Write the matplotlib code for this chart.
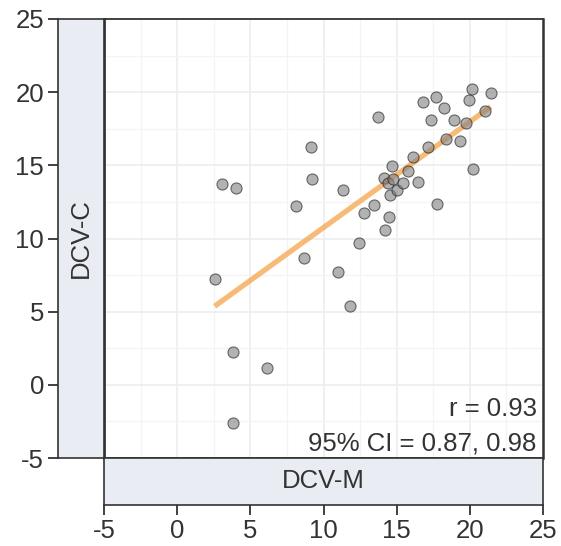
import numpy as np
import matplotlib
matplotlib.use("Agg")
import matplotlib.pyplot as plt

plt.rcParams['font.family'] = ['Liberation Sans', 'DejaVu Sans']

# DCV measurements: method M (x) against method C (y)
dcv_m = [2.56, 3.06, 4.04, 3.84, 3.84, 6.12, 8.15, 8.65, 9.13, 9.20,
         11.00, 11.34, 11.81, 12.45, 12.75, 13.43, 13.73, 14.20, 14.50, 14.14,
         14.43, 14.55, 14.66, 14.78, 15.00, 15.46, 15.75, 16.48, 16.15, 17.17,
         17.75, 16.83, 17.69, 17.33, 18.26, 18.35, 18.92, 19.31, 19.74, 19.92,
         20.13, 20.24, 21.04, 21.43]
dcv_c = [7.20, 13.75, 13.48, 2.23, -2.59, 1.13, 12.25, 8.65, 16.28, 14.05,
         7.70, 13.34, 5.41, 9.68, 11.75, 12.28, 18.30, 10.60, 11.49, 14.16,
         13.78, 12.98, 14.96, 14.05, 13.32, 13.78, 14.60, 13.89, 15.60, 16.22,
         12.34, 19.31, 19.70, 18.08, 18.92, 16.80, 18.12, 16.65, 17.90, 19.45,
         20.24, 14.77, 18.74, 19.97]
tick_values = [-5, 0, 5, 10, 15, 20, 25]
r_label = "r = 0.93"
ci_label = "95% CI = 0.87, 0.98"
x_strip = "DCV-M"
y_strip = "DCV-C"

W, H = 561, 546
fig = plt.figure(figsize=(W / 100, H / 100), dpi=100)


def rect(x0, y0, x1, y1):
    return [x0 / W, 1 - y1 / H, (x1 - x0) / W, (y1 - y0) / H]


TXT = '#333333'
EDGE = '#333333'
STRIP = '#E9ECF2'
FS = 18.5

ax = fig.add_axes(rect(104, 19, 543, 458))
axl = fig.add_axes(rect(58, 19, 104, 458))
axb = fig.add_axes(rect(104, 458, 543, 505))

lims = (-5, 25)

# main panel
ax.set_xlim(lims)
ax.set_ylim(lims)
ax.set_xticks(tick_values)
ax.set_yticks(tick_values)
ax.set_xticks(np.arange(-2.5, 25, 5), minor=True)
ax.set_yticks(np.arange(-2.5, 25, 5), minor=True)
ax.tick_params(which='both', length=0, labelbottom=False, labelleft=False)
ax.grid(which='major', color='#EBEDF0', lw=1.2)
ax.grid(which='minor', color='#F3F4F6', lw=0.9)
ax.set_axisbelow(True)
for s in ax.spines.values():
    s.set_color(EDGE)
    s.set_linewidth(1.3)
ax.spines['left'].set_linewidth(2.0)
ax.spines['right'].set_linewidth(1.8)

x = np.array(dcv_m)
y = np.array(dcv_c)
slope, intercept = np.polyfit(x, y, 1)
xs = np.array([x.min(), x.max()])
ax.plot(xs, intercept + slope * xs, color='#F5A54A', alpha=0.75, lw=3.8,
        solid_capstyle='butt', zorder=2)
ax.scatter(x, y, s=64, facecolor='#7f7f7f', edgecolor='#1a1a1a',
           linewidths=0.8, alpha=0.6, zorder=3)

ax.text(0.986, 0.0957, r_label, transform=ax.transAxes, ha='right',
        va='baseline', fontsize=FS, color=TXT)
ax.text(0.986, 0.0182, ci_label, transform=ax.transAxes, ha='right',
        va='baseline', fontsize=FS, color=TXT)

# left strip with y axis
axl.set_facecolor(STRIP)
axl.set_ylim(lims)
axl.set_xticks([])
axl.set_yticks(tick_values)
axl.set_yticklabels([str(v) for v in tick_values])
axl.tick_params(axis='y', length=7, width=1.3, color=EDGE, labelcolor=TXT,
                labelsize=FS, pad=3)
for s in axl.spines.values():
    s.set_color(EDGE)
    s.set_linewidth(1.2)
axl.text(0.5, 0.5, y_strip, transform=axl.transAxes, rotation=90,
         ha='center', va='center', fontsize=FS, color=TXT)

# bottom strip with x axis
axb.set_facecolor(STRIP)
axb.set_xlim(lims)
axb.set_yticks([])
axb.set_xticks(tick_values)
axb.set_xticklabels([str(v) for v in tick_values])
axb.tick_params(axis='x', length=7, width=1.3, color=EDGE, labelcolor=TXT,
                labelsize=FS, pad=3)
for s in axb.spines.values():
    s.set_color(EDGE)
    s.set_linewidth(1.2)
axb.text(0.5, 0.5, x_strip, transform=axb.transAxes, ha='center',
         va='center', fontsize=FS, color=TXT)

fig.savefig('out.png', dpi=100)
